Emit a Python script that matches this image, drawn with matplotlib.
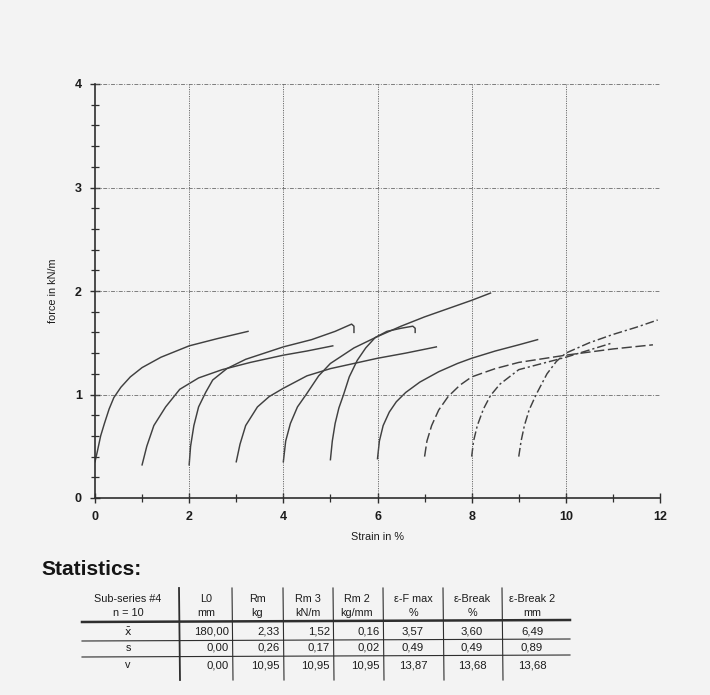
import matplotlib
matplotlib.use("Agg")
import matplotlib.pyplot as plt
from matplotlib.ticker import MultipleLocator

plt.rcParams['font.family'] = ['Liberation Sans', 'DejaVu Sans']

# ---- data: stress-strain curves (x = strain %, y = force kN/m) ----
c0_x = [0, 0.05, 0.12, 0.2, 0.3, 0.4, 0.55, 0.75, 1.0, 1.4, 2.0, 2.6, 3.25]
c0_y = [0.35, 0.45, 0.6, 0.72, 0.86, 0.97, 1.07, 1.17, 1.26, 1.36, 1.47, 1.54, 1.61]
c1_x = [1.0, 1.1, 1.25, 1.5, 1.8, 2.2, 2.7, 3.3, 4.0, 4.5, 5.05]
c1_y = [0.32, 0.5, 0.7, 0.88, 1.05, 1.16, 1.24, 1.31, 1.38, 1.42, 1.47]
c2_x = [2.0, 2.03, 2.1, 2.2, 2.35, 2.5, 2.8, 3.2, 4.0, 4.6, 5.1, 5.45, 5.5, 5.5]
c2_y = [0.32, 0.5, 0.7, 0.88, 1.02, 1.14, 1.25, 1.34, 1.46, 1.53, 1.61, 1.68, 1.66, 1.6]
c3_x = [3.0, 3.08, 3.2, 3.45, 3.7, 4.0, 4.5, 5.0, 5.5, 6.0, 6.6, 7.25]
c3_y = [0.35, 0.52, 0.7, 0.88, 0.98, 1.06, 1.18, 1.25, 1.3, 1.35, 1.4, 1.46]
c4_x = [4.0, 4.05, 4.15, 4.3, 4.5, 4.75, 5.0, 5.5, 6.0, 6.5, 7.0, 7.5, 8.0, 8.4]
c4_y = [0.35, 0.55, 0.72, 0.88, 1.01, 1.18, 1.3, 1.45, 1.56, 1.66, 1.75, 1.83, 1.91, 1.98]
c5_x = [5.0, 5.04, 5.1, 5.18, 5.28, 5.4, 5.57, 5.75, 5.95, 6.2, 6.5, 6.75, 6.8, 6.8]
c5_y = [0.37, 0.55, 0.72, 0.87, 1.0, 1.17, 1.33, 1.45, 1.55, 1.61, 1.64, 1.66, 1.64, 1.6]
c6_x = [6.0, 6.04, 6.12, 6.25, 6.4, 6.6, 6.9, 7.3, 7.7, 8.0, 8.5, 9.0, 9.4]
c6_y = [0.38, 0.55, 0.7, 0.83, 0.93, 1.02, 1.12, 1.22, 1.3, 1.35, 1.42, 1.48, 1.53]
c7_x = [7.0, 7.05, 7.15, 7.3, 7.5, 7.75, 8.0, 8.5, 9.0, 10.0, 11.0, 11.85]
c7_y = [0.4, 0.55, 0.7, 0.85, 0.98, 1.09, 1.17, 1.25, 1.31, 1.38, 1.44, 1.48]
c8_x = [8.0, 8.04, 8.12, 8.25, 8.4, 8.6, 9.0, 9.5, 10.0, 10.5, 11.0]
c8_y = [0.4, 0.55, 0.7, 0.86, 0.99, 1.1, 1.24, 1.3, 1.36, 1.43, 1.5]
c9_x = [9.0, 9.05, 9.12, 9.22, 9.37, 9.6, 9.8, 10.0, 10.5, 11.0, 11.5, 11.95]
c9_y = [0.4, 0.55, 0.7, 0.85, 1.0, 1.2, 1.32, 1.4, 1.5, 1.58, 1.65, 1.72]

curves_x = [c0_x, c1_x, c2_x, c3_x, c4_x, c5_x, c6_x, c7_x, c8_x, c9_x]
curves_y = [c0_y, c1_y, c2_y, c3_y, c4_y, c5_y, c6_y, c7_y, c8_y, c9_y]

x_ticks = [0, 2, 4, 6, 8, 10, 12]
y_ticks = [0, 1, 2, 3, 4]
x_label = "Strain in %"
y_label = "force in kN/m"

# ---- data: statistics table ----
stat_title = "Statistics:"
col_head1 = ["Sub-series #4", "L0", "Rm", "Rm 3", "Rm 2", "\u03b5-F max", "\u03b5-Break", "\u03b5-Break 2"]
col_head2 = ["n = 10", "mm", "kg", "kN/m", "kg/mm", "%", "%", "mm"]
row_labels = [r"$\bar{\mathsf{x}}$", "s", "v"]
row_x = ["180,00", "2,33", "1,52", "0,16", "3,57", "3,60", "6,49"]
row_s = ["0,00", "0,26", "0,17", "0,02", "0,49", "0,49", "0,89"]
row_v = ["0,00", "10,95", "10,95", "10,95", "13,87", "13,68", "13,68"]

W, H = 710, 695
fig = plt.figure(figsize=(W / 100, H / 100), dpi=100, facecolor='#f3f3f3')

ink = '#2e2e2e'
txt = '#1c1c1c'

# ---- main chart ----
ax = fig.add_axes([95 / W, 1 - 498 / H, 565 / W, 414 / H])
ax.set_facecolor('none')
for i in range(len(curves_x)):
    if i == 7:
        ls = (0, (7, 2.5))
    elif i >= 8:
        ls = (0, (6, 2, 1.5, 2))
    else:
        ls = '-'
    ax.plot(curves_x[i], curves_y[i], color='#404040', lw=1.05, ls=ls)

ax.set_xlim(0, 12)
ax.set_ylim(0, 4)
ax.set_xticks(x_ticks)
ax.set_yticks(y_ticks)
ax.xaxis.set_minor_locator(MultipleLocator(1))
ax.yaxis.set_minor_locator(MultipleLocator(0.2))
ax.tick_params(axis='both', which='major', direction='inout', length=7, width=1.0,
               color=ink, labelsize=9, labelcolor=txt, pad=6)
ax.tick_params(axis='both', which='minor', direction='inout', length=6, width=0.9, color=ink)
for lbl in ax.get_xticklabels() + ax.get_yticklabels():
    lbl.set_fontweight('bold')
for v in x_ticks[1:]:
    ax.axvline(v, color='#555555', lw=0.7, ls=(0, (1.2, 1.2)), alpha=0.85 if v < 12 else 0.35)
for v in y_ticks[1:]:
    ax.axhline(v, color='#555555', lw=0.7, ls=(0, (4, 1.5, 1, 1.5)), alpha=0.75)
for s in ['top', 'right']:
    ax.spines[s].set_visible(False)
for s in ['left', 'bottom']:
    ax.spines[s].set_color(ink)
    ax.spines[s].set_linewidth(1.2)
ax.set_xlabel(x_label, fontsize=7.8, color=txt, labelpad=6)
ax.set_ylabel(y_label, fontsize=7.8, color=txt, labelpad=12)

# ---- statistics table (drawn in a pixel-coordinate overlay) ----
tb = fig.add_axes([0, 0, 1, 1], zorder=-1)
tb.set_xlim(0, W)
tb.set_ylim(H, 0)
tb.axis('off')

tb.text(41, 575, stat_title, fontsize=15, fontweight='bold', color='#151515',
        ha='left', va='baseline')

vlines = [179, 232, 283, 333, 383, 443, 502]
left_edge, right_edge = 82, 570
col_centers = [128, 206, 257, 308, 357, 413, 472, 532]
y_h1, y_h2 = 599, 613
y_rows = [632, 648, 665]
tfs = 7.8

for cx, t1, t2 in zip(col_centers, col_head1, col_head2):
    tb.text(cx, y_h1, t1, fontsize=tfs, ha='center', va='center', color=txt)
    tb.text(cx, y_h2, t2, fontsize=tfs, ha='center', va='center', color=txt)

rows = [row_x, row_s, row_v]
for yr, lab, vals in zip(y_rows, row_labels, rows):
    tb.text(col_centers[0], yr, lab, fontsize=tfs, ha='center', va='center', color=txt)
    for j, val in enumerate(vals):
        if j < 4:
            tb.text(vlines[j + 1] - 3, yr, val, fontsize=tfs + 0.4, ha='right', va='center',
                    color=txt)
        else:
            tb.text(col_centers[j + 1], yr, val, fontsize=tfs + 0.4, ha='center', va='center',
                    color=txt)

tb.plot([left_edge, right_edge], [622, 620], color=ink, lw=1.8)
tb.plot([left_edge, right_edge], [641, 639], color=ink, lw=0.8)
tb.plot([left_edge, right_edge], [657, 655], color=ink, lw=0.8)
for k, xv in enumerate(vlines):
    tb.plot([xv, xv + 1], [588, 680], color=ink, lw=1.3 if k == 0 else 0.8)

fig.savefig("out.png", dpi=100, facecolor=fig.get_facecolor())
